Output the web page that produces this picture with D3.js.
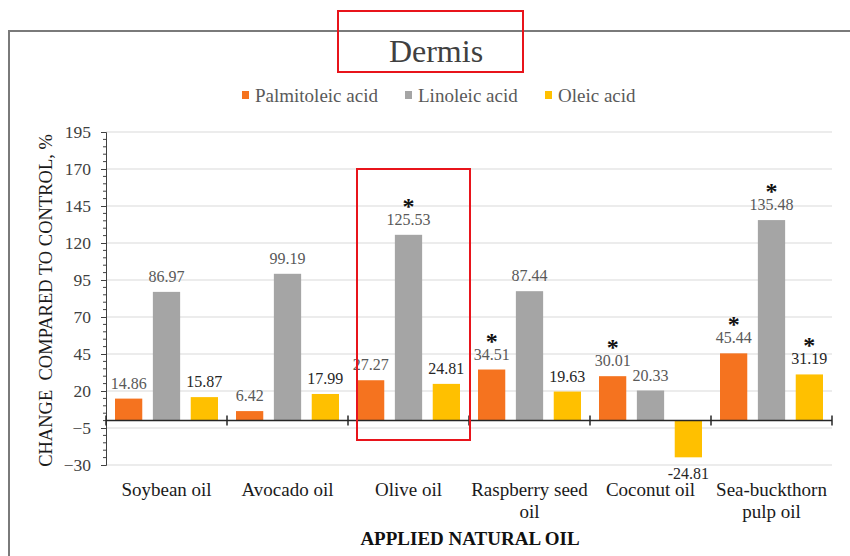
<!DOCTYPE html>
<html><head><meta charset="utf-8">
<script src="https://cdn.jsdelivr.net/npm/d3@7"></script>
<style>
html,body{margin:0;padding:0;background:#fff;}
svg{display:block;font-family:"Liberation Serif","Times New Roman",serif;}
</style></head>
<body><svg id="c" width="850" height="556"></svg>
<script>
const categories = ["Soybean oil","Avocado oil","Olive oil","Raspberry seed oil","Coconut oil","Sea-buckthorn pulp oil"];
const seriesNames = ["Palmitoleic acid","Linoleic acid","Oleic acid"];
const palmitoleic = [14.86, 6.42, 27.27, 34.51, 30.01, 45.44];
const linoleic = [86.97, 99.19, 125.53, 87.44, 20.33, 135.48];
const oleic = [15.87, 17.99, 24.81, 19.63, -24.81, 31.19];
const palmitoleicSig = [0,0,0,1,1,1];
const linoleicSig = [0,0,1,0,0,1];
const oleicSig = [0,0,0,0,0,1];
const yTicks = [-30,-5,20,45,70,95,120,145,170,195];
const colors = ["#F5731F","#A5A5A5","#FFC000"];
const labelColors = ["#595959","#595959","#262626"];

const values = [palmitoleic, linoleic, oleic];
const sigs = [palmitoleicSig, linoleicSig, oleicSig];

const svg = d3.select("#c");
const pLeft = 106, pRight = 832, pTop = 132, pBottom = 465;

// outer frame
svg.append("rect").attr("x",9).attr("y",31).attr("width",850).attr("height",540)
  .attr("fill","#fff").attr("stroke","#7a7a7a").attr("stroke-width",2);

const y = d3.scaleLinear().domain([-30,195]).range([pBottom,pTop]);
const x0 = d3.scaleBand().domain(categories).range([pLeft,pRight]).padding(0);
const x1 = d3.scaleBand().domain(seriesNames).range([9, x0.bandwidth()-9]).paddingInner(0.28).paddingOuter(0);

// gridlines
svg.append("g").selectAll("line").data(yTicks).join("line")
  .attr("x1",pLeft).attr("x2",pRight).attr("y1",d=>y(d)).attr("y2",d=>y(d))
  .attr("stroke","#d9d9d9").attr("stroke-width",1);

// y axis
const yAxis = d3.axisLeft(y).tickValues(yTicks).tickSize(5).tickPadding(10).tickFormat(d3.format("d"));
const ga = svg.append("g").attr("transform",`translate(${pLeft},0)`).call(yAxis);
ga.select(".domain").attr("stroke","#404040");
ga.selectAll(".tick line").attr("stroke","#404040");
ga.selectAll("text").attr("font-size",17.5).attr("fill","#404040")
  .attr("font-family","Liberation Serif, serif");
// minor ticks
const minor = d3.range(-30,196,5).filter(v=>!yTicks.includes(v));
svg.append("g").selectAll("line").data(minor).join("line")
  .attr("x1",pLeft-3).attr("x2",pLeft).attr("y1",d=>y(d)).attr("y2",d=>y(d))
  .attr("stroke","#404040");

// bars
const groups = svg.append("g").selectAll("g").data(categories).join("g")
  .attr("transform",d=>`translate(${x0(d)},0)`);
seriesNames.forEach((s,si)=>{
  groups.append("rect")
    .attr("x",x1(s)).attr("width",x1.bandwidth())
    .attr("y",(d,i)=>y(Math.max(0,values[si][i])))
    .attr("height",(d,i)=>Math.abs(y(values[si][i])-y(0)))
    .attr("fill",colors[si]);
});

// zero axis
svg.append("line").attr("x1",pLeft).attr("x2",pRight).attr("y1",y(0)).attr("y2",y(0))
  .attr("stroke","#262626").attr("stroke-width",1.5);
const bounds = categories.map(c=>x0(c)).concat([pRight]);
svg.append("g").selectAll("line").data(bounds).join("line")
  .attr("x1",d=>d).attr("x2",d=>d).attr("y1",y(0)-5).attr("y2",y(0)+5)
  .attr("stroke","#262626").attr("stroke-width",1.5);

// value labels
seriesNames.forEach((s,si)=>{
  categories.forEach((c,i)=>{
    const v = values[si][i];
    const cx = x0(c)+x1(s)+x1.bandwidth()/2;
    let ly;
    if (v>=0) ly = y(v)-10; else ly = y(v)+22;
    svg.append("text").attr("x",cx).attr("y",ly).attr("text-anchor","middle")
      .attr("font-size",16).attr("fill",labelColors[si]).text(v.toFixed(2));
    if (sigs[si][i]) {
      svg.append("text").attr("x",cx).attr("y",ly-11).attr("text-anchor","middle")
        .attr("font-size",24).attr("font-weight","bold").attr("fill","#111").text("*");
    }
  });
});

// category labels with wrap
const catFont = 19;
categories.forEach(c=>{
  const cx = x0(c)+x0.bandwidth()/2;
  const t = svg.append("text").attr("x",cx).attr("y",496)
    .attr("text-anchor","middle").attr("font-size",catFont).attr("fill","#1a1a1a");
  const words = c.split(" ");
  let line = [], lines = [];
  const probe = svg.append("text").attr("font-size",catFont);
  words.forEach(w=>{
    const test = line.concat([w]).join(" ");
    probe.text(test);
    if (probe.node().getComputedTextLength() > x0.bandwidth() && line.length) { lines.push(line.join(" ")); line=[w]; }
    else line.push(w);
  });
  lines.push(line.join(" "));
  probe.remove();
  lines.forEach((l,k)=>t.append("tspan").attr("x",cx).attr("dy",k?22:0).text(l));
});

// axis titles
svg.append("text").attr("x",470).attr("y",545).attr("text-anchor","middle")
  .attr("font-size",19).attr("font-weight","bold").attr("fill","#111").text("APPLIED NATURAL OIL");
svg.append("text").attr("transform",`translate(52,${(pTop+pBottom)/2+2}) rotate(-90)`)
  .attr("text-anchor","middle").attr("font-size",18.5).attr("fill","#1a1a1a")
  .style("white-space","pre").text("CHANGE  COMPARED TO CONTROL, %");

// title
svg.append("text").attr("x",436).attr("y",62).attr("text-anchor","middle")
  .attr("font-size",32).attr("fill","#404040").text("Dermis");

// legend
const legX = [242,405,545];
seriesNames.forEach((s,si)=>{
  svg.append("rect").attr("x",legX[si]).attr("y",91).attr("width",7).attr("height",8).attr("fill",colors[si]);
  svg.append("text").attr("x",legX[si]+13).attr("y",102).attr("font-size",19).attr("fill","#595959").text(s);
});

// red highlight boxes
svg.append("rect").attr("x",338).attr("y",11).attr("width",185).attr("height",61)
  .attr("fill","none").attr("stroke","#e8141b").attr("stroke-width",2);
svg.append("rect").attr("x",357).attr("y",169).attr("width",113).attr("height",271)
  .attr("fill","none").attr("stroke","#e8141b").attr("stroke-width",2);
</script></body></html>
